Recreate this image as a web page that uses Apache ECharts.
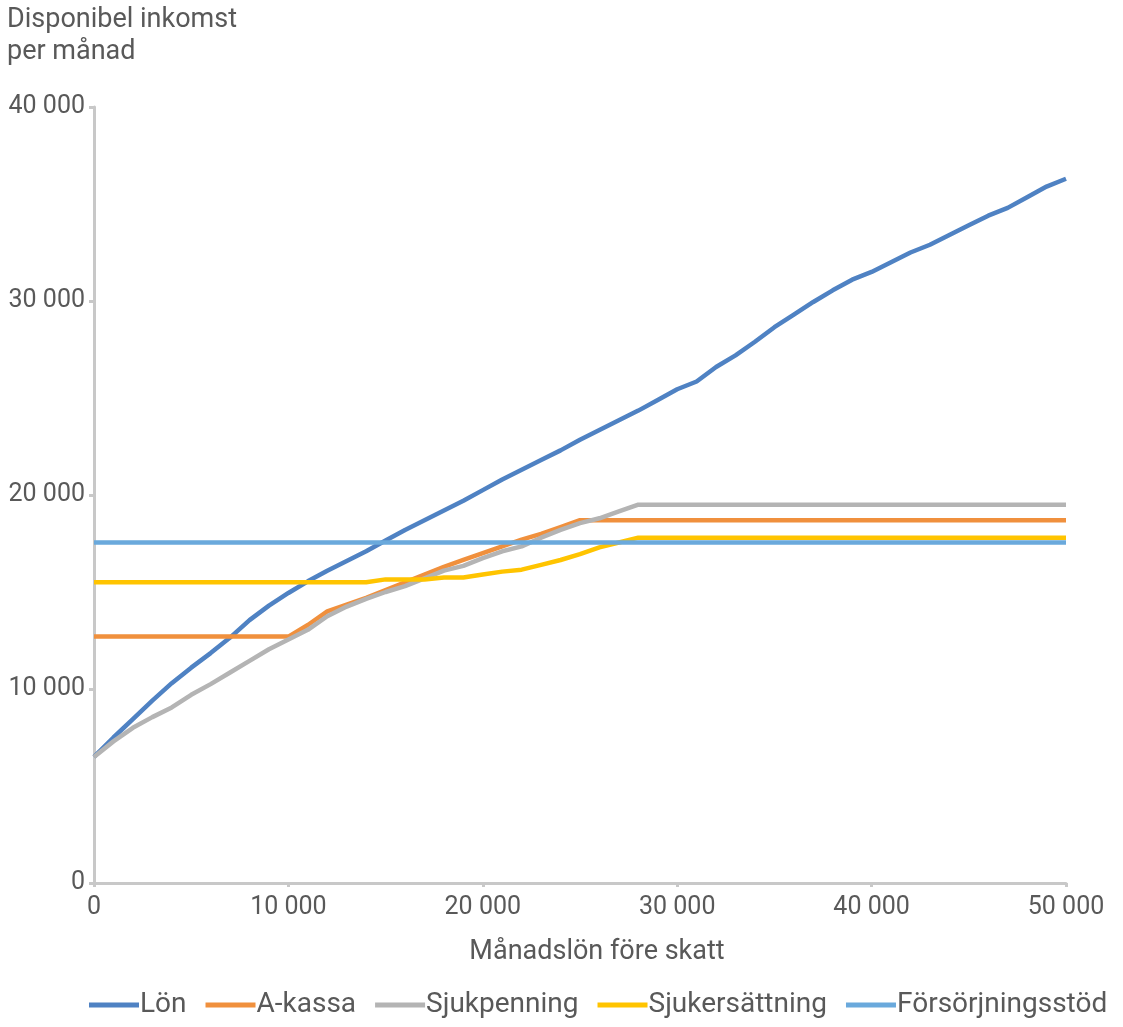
<!DOCTYPE html>
<html><head><meta charset="utf-8">
<script src="https://cdn.jsdelivr.net/npm/echarts@6/dist/echarts.min.js"></script>
<style>html,body{margin:0;padding:0;background:#fff}#c{width:1123px;height:1027px}</style>
</head><body><div id="c"></div>
<script>
const salary = [0,1000,2000,3000,4000,5000,6000,7000,8000,9000,10000,11000,12000,13000,14000,15000,16000,17000,18000,19000,20000,21000,22000,23000,24000,25000,26000,27000,28000,29000,30000,31000,32000,33000,34000,35000,36000,37000,38000,39000,40000,41000,42000,43000,44000,45000,46000,47000,48000,49000,50000];
const lon = [6500,7500,8450,9400,10300,11100,11850,12650,13550,14300,14950,15550,16100,16600,17100,17650,18200,18700,19200,19700,20250,20800,21300,21800,22300,22850,23350,23850,24350,24900,25450,25850,26600,27200,27900,28650,29300,29950,30550,31100,31500,32000,32500,32900,33400,33900,34400,34800,35350,35900,36300];
const akassa = [12700,12700,12700,12700,12700,12700,12700,12700,12700,12700,12700,13300,14000,14350,14700,15100,15500,15900,16300,16650,17000,17350,17700,18000,18350,18700,18700,18700,18700,18700,18700,18700,18700,18700,18700,18700,18700,18700,18700,18700,18700,18700,18700,18700,18700,18700,18700,18700,18700,18700,18700];
const sjukpenning = [6500,7300,8000,8550,9050,9700,10250,10850,11450,12050,12550,13050,13750,14250,14650,15000,15300,15700,16100,16350,16750,17100,17350,17800,18200,18550,18800,19150,19500,19500,19500,19500,19500,19500,19500,19500,19500,19500,19500,19500,19500,19500,19500,19500,19500,19500,19500,19500,19500,19500,19500];
const sjukersattning = [15500,15500,15500,15500,15500,15500,15500,15500,15500,15500,15500,15500,15500,15500,15500,15650,15650,15650,15750,15750,15900,16050,16150,16400,16650,16950,17300,17550,17800,17800,17800,17800,17800,17800,17800,17800,17800,17800,17800,17800,17800,17800,17800,17800,17800,17800,17800,17800,17800,17800,17800];
const forsorjning = [17550,17550,17550,17550,17550,17550,17550,17550,17550,17550,17550,17550,17550,17550,17550,17550,17550,17550,17550,17550,17550,17550,17550,17550,17550,17550,17550,17550,17550,17550,17550,17550,17550,17550,17550,17550,17550,17550,17550,17550,17550,17550,17550,17550,17550,17550,17550,17550,17550,17550,17550];
const seriesNames = ['Lön','A-kassa','Sjukpenning','Sjukersättning','Försörjningsstöd'];
const seriesColors = ['#4f82c3','#f0903d','#b4b4b4','#ffc400','#6aa9dc'];
const yTitle = 'Disponibel inkomst\nper månad';
const xTitle = 'Månadslön före skatt';

const fmt = v => String(v).replace(/\B(?=(\d{3})+(?!\d))/g, ' ');
const all = [lon, akassa, sjukpenning, sjukersattning, forsorjning];
const txt = '#595959';
const font = 'Roboto';

const chart = echarts.init(document.getElementById('c'), null, {renderer:'canvas'});
chart.setOption({
  animation:false,
  backgroundColor:'#fff',
  title:{text:yTitle, left:7, top:4, padding:0, textStyle:{fontFamily:font, fontSize:27, fontWeight:'normal', color:txt, lineHeight:32}},
  grid:{left:94, right:57, top:107, bottom:144},
  legend:{
    bottom:3, left:84,
    itemWidth:50, itemHeight:5, itemGap:19,
    icon:'rect',
    textStyle:{fontFamily:font, fontSize:28, color:txt, padding:[0,0,0,-4]},
    data:seriesNames
  },
  xAxis:{
    type:'value', min:0, max:50000, interval:10000,
    name:xTitle, nameLocation:'middle', nameGap:56,
    nameTextStyle:{fontFamily:font, fontSize:27, color:txt, padding:[0,0,0,34]},
    axisLine:{show:true, lineStyle:{color:'#c8c8c8', width:3}},
    axisTick:{show:true, length:4, lineStyle:{color:'#c8c8c8', width:3}},
    axisLabel:{fontFamily:font, fontSize:25, color:txt, margin:12, formatter:fmt},
    splitLine:{show:false}
  },
  yAxis:{
    type:'value', min:0, max:40000, interval:10000,
    axisLine:{show:true, lineStyle:{color:'#c8c8c8', width:3}},
    axisTick:{show:true, length:5, lineStyle:{color:'#c8c8c8', width:3}},
    axisLabel:{fontFamily:font, fontSize:25, color:txt, margin:9, formatter:fmt},
    splitLine:{show:false}
  },
  series: all.map((arr,i)=>({
    name:seriesNames[i], type:'line', showSymbol:false, symbol:'none',
    color:seriesColors[i],
    lineStyle:{width:4.5, color:seriesColors[i]},
    data: salary.map((x,j)=>[x, arr[j]])
  }))
});
</script></body></html>
